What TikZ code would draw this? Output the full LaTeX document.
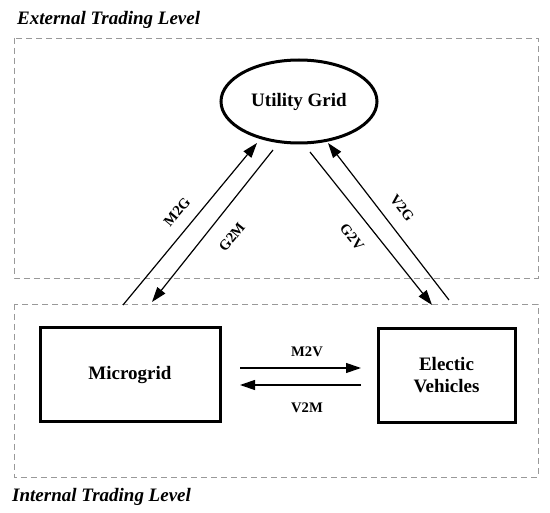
\documentclass[tikz,border=0pt]{standalone}
\usepackage{fontspec}
\setmainfont{Liberation Serif}
\usetikzlibrary{shapes.geometric,arrows.meta}
\begin{document}
\begin{tikzpicture}[x=1pt,y=-1pt,
  levelbox/.style={draw=black!40,line width=0.8pt,dash pattern=on 6pt off 4pt},
  leveltext/.style={anchor=west,inner sep=0pt,font=\fontsize{19}{22}\selectfont\bfseries\itshape},
  entity/.style={draw,line width=3pt,inner sep=0pt,align=center,font=\fontsize{19}{22}\selectfont\bfseries},
  flow/.style={line width=1.2pt,-{Triangle[length=15pt,width=10pt]}},
  flowlabel/.style={inner sep=0pt,font=\fontsize{14.6}{16}\selectfont\bfseries}]
\useasboundingbox (0,0) rectangle (550,513);
% trading levels
\draw[levelbox] (14,38) rectangle (538,278);
\draw[levelbox] (14,304) rectangle (538,477);
\node[leveltext] (ext) at (17,20) {External Trading Level};
\node[leveltext] (int) at (12,497) {Internal Trading Level};
% entities
\node[entity,ellipse,minimum width=156pt,minimum height=83pt] (ug) at (299,101.5) {Utility Grid};
\node[entity,rectangle,minimum width=180pt,minimum height=94pt] (mg) at (130,375) {Microgrid};
\node[entity,rectangle,minimum width=137pt,minimum height=94pt] (ev) at (446.5,375.5) {Electic\\Vehicles};
% arrow ends
\coordinate (m2gA) at (123,305); \coordinate (m2gB) at (257,143);
\coordinate (g2mA) at (273,150); \coordinate (g2mB) at (152,302);
\coordinate (g2vA) at (310,152); \coordinate (g2vB) at (432,305);
\coordinate (v2gA) at (449,300); \coordinate (v2gB) at (328,143);
\coordinate (m2vA) at (240,368); \coordinate (m2vB) at (361,368);
\coordinate (v2mA) at (361,385); \coordinate (v2mB) at (240,385);
\draw[flow] (m2gA) -- (m2gB);
\draw[flow] (g2mA) -- (g2mB);
\draw[flow] (g2vA) -- (g2vB);
\draw[flow] (v2gA) -- (v2gB);
\draw[flow] (m2vA) -- (m2vB);
\draw[flow] (v2mA) -- (v2mB);
% labels
\node[flowlabel,rotate=50] (lm2g) at (177,212) {M2G};
\node[flowlabel,rotate=51] (lg2m) at (232,237) {G2M};
\node[flowlabel,rotate=-51] (lg2v) at (352,237) {G2V};
\node[flowlabel,rotate=-52] (lv2g) at (402,208) {V2G};
\node[flowlabel] (lm2v) at (307,352) {M2V};
\node[flowlabel] (lv2m) at (307,408) {V2M};
\end{tikzpicture}
\end{document}
